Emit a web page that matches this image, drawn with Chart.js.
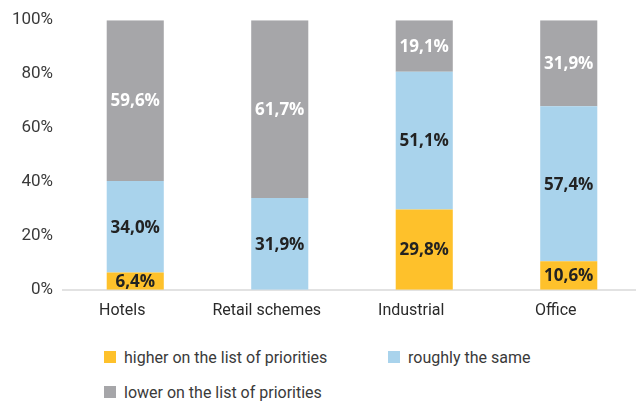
<!DOCTYPE html>
<html>
<head>
<meta charset="utf-8">
<script src="https://cdn.jsdelivr.net/npm/chart.js@4/dist/chart.umd.min.js"></script>
<style>
    html, body { margin: 0; padding: 0; background: #fff; overflow: hidden; }
    body { width: 636px; height: 403px; position: relative; }
    #wrap { position: absolute; left: 0; top: 0; width: 641px; height: 342px; }
    .legend { position: absolute; left: 104px; top: 347px; width: 520px; font-family: Roboto, sans-serif; font-size: 16px; color: #3a3a3a; }
    .legend .item { position: absolute; display: flex; align-items: center; height: 20px; white-space: nowrap; }
    .legend .box { width: 12px; height: 12px; margin-right: 8px; }
</style>
</head>
<body>
<div id="wrap"><canvas id="chart" width="641" height="342"></canvas></div>
<div class="legend" id="legend"></div>
<script>
// カテゴリ
const categories = ['Hotels', 'Retail schemes', 'Industrial', 'Office'];

// 各系列の値 (%)
const higher = [6.4, 0, 29.8, 10.6];
const same = [34.0, 31.9, 51.1, 57.4];
const lower = [59.6, 61.7, 19.1, 31.9];

// 凡例ラベル
const seriesNames = ['higher on the list of priorities', 'roughly the same', 'lower on the list of priorities'];
const seriesColors = ['#fec12b', '#a9d3ec', '#a6a6a9'];
const labelColors = ['#222222', '#222222', '#ffffff'];

// Y軸目盛り
const yTicks = [0, 20, 40, 60, 80, 100];

// 100%積み上げ用に正規化
const raw = [higher, same, lower];
const totals = categories.map((c, i) => raw.reduce((s, arr) => s + arr[i], 0));
const shares = raw.map(arr => arr.map((v, i) => v / totals[i] * 100));

// 棒の中に値を書くプラグイン
const valueLabels = {
    id: 'valueLabels',
    afterDatasetsDraw(chart) {
        const ctx = chart.ctx;
        ctx.save();
        ctx.font = 'bold 17px "Open Sans", sans-serif';
        ctx.textAlign = 'center';
        ctx.textBaseline = 'middle';
        chart.data.datasets.forEach((ds, di) => {
            const meta = chart.getDatasetMeta(di);
            meta.data.forEach((bar, i) => {
                const v = raw[di][i];
                if (!v) return;
                const p = bar.getProps(['x', 'y', 'base'], true);
                ctx.fillStyle = labelColors[di];
                ctx.fillText(v.toFixed(1).replace('.', ',') + '%', p.x, (p.y + p.base) / 2 + 1);
            });
        });
        ctx.restore();
    }
};

new Chart(document.getElementById('chart').getContext('2d'), {
    type: 'bar',
    data: {
        labels: categories,
        datasets: shares.map((arr, i) => ({
            label: seriesNames[i],
            data: arr,
            backgroundColor: seriesColors[i],
            borderWidth: 0,
            barPercentage: 0.395,
            categoryPercentage: 1
        }))
    },
    options: {
        responsive: false,
        animation: false,
        layout: { padding: { top: 13, bottom: 9, left: 0, right: 0 } },
        plugins: {
            legend: { display: false },
            tooltip: { enabled: false }
        },
        scales: {
            x: {
                stacked: true,
                grid: { display: false, drawTicks: false },
                border: { display: true, color: '#e2e2e2', width: 2 },
                ticks: {
                    color: '#2a2a2a',
                    font: { family: 'Roboto', size: 16 },
                    padding: 12,
                    labelOffset: -13
                }
            },
            y: {
                stacked: true,
                min: 0,
                max: 100,
                grid: { display: false, drawTicks: false },
                border: { display: false },
                afterBuildTicks: scale => { scale.ticks = yTicks.map(v => ({ value: v })); },
                afterFit: scale => { scale.width = 63; },
                ticks: {
                    color: '#3a3a3a',
                    font: { family: 'Roboto', size: 17 },
                    padding: 10,
                    callback: v => v + '%'
                }
            }
        }
    },
    plugins: [valueLabels]
});

// 凡例 (HTML)
const legendPos = [[0, 0], [284, 0], [0, 35]];
const legendEl = document.getElementById('legend');
seriesNames.forEach((name, i) => {
    const item = document.createElement('div');
    item.className = 'item';
    item.style.left = legendPos[i][0] + 'px';
    item.style.top = legendPos[i][1] + 'px';
    item.innerHTML = '<span class="box" style="background:' + seriesColors[i] + '"></span><span>' + name + '</span>';
    legendEl.appendChild(item);
});
</script>
</body>
</html>
